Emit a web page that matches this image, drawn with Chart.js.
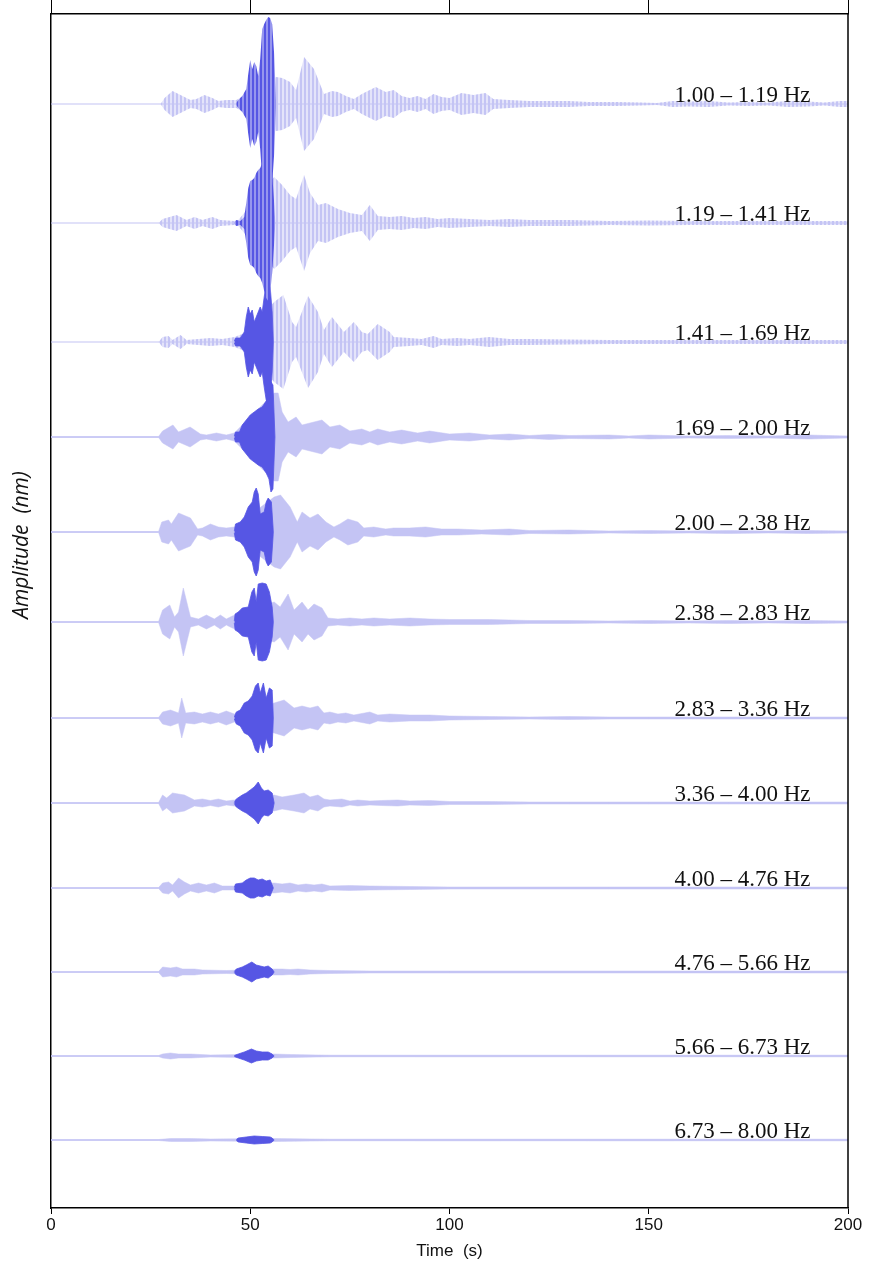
<!DOCTYPE html>
<html>
<head>
<meta charset="utf-8">
<script src="https://cdn.jsdelivr.net/npm/chart.js@4.4.1/dist/chart.umd.min.js"></script>
<style>
  html, body { margin: 0; padding: 0; background: #fff; }
  canvas { display: block; }
</style>
</head>
<body>
<canvas id="seis" width="871" height="1272" style="width:871px;height:1272px"></canvas>
<script>
// band names, right hand labels
const bandLabels = [
  "1.00 – 1.19 Hz", "1.19 – 1.41 Hz", "1.41 – 1.69 Hz", "1.69 – 2.00 Hz",
  "2.00 – 2.38 Hz", "2.38 – 2.83 Hz", "2.83 – 3.36 Hz", "3.36 – 4.00 Hz",
  "4.00 – 4.76 Hz", "4.76 – 5.66 Hz", "5.66 – 6.73 Hz", "6.73 – 8.00 Hz"
];

// trace offsets on the (reversed) amplitude axis
const baselines = [90, 209, 328, 423, 518, 608, 704, 789, 874, 958, 1042, 1126];

const xTicks = [0, 50, 100, 150, 200];

// envelopes: [time (s), half amplitude]
// light = whole record, dark = the highlighted window
const band1Light = [[0,0],[27.5,0],[28.5,6],[30.5,13],[33,8],[35,4],[36.5,5],[38.5,9],[40.5,6],[42,3],[44,4],[46.5,4],[56.5,27],[58,26],[60,22],[61.5,14],[63.5,47],[66,35],[68.5,10],[70.5,13],[72,12],[74,8],[76,5],[78,10],[81.5,17],[84,12],[86,14],[88,8],[90,6],[92,8],[94,5],[96,10],[98,7],[100,6],[103,11],[106,9],[109,11],[111,5],[115,4],[120,3],[125,3],[130,3],[135,2],[142,2],[148,1.5],[152,1],[156,3],[160,2.5],[165,3],[170,1.5],[175,2],[180,1.5],[185,3],[190,2.5],[194,1.5],[198,3],[200,3]];
const band1Dark = [[46.5,1],[47,4],[48,8],[49,15],[49.5,30],[50,44],[50.5,35],[51,42],[51.5,38],[52,28],[52.5,45],[53,75],[53.5,80],[54,84],[54.5,87],[55,86],[55.5,80],[56,50],[56.5,0]];

const band2Light = [[0,0],[27,0],[28,4],[31.5,8],[34,3],[36,6],[38,3],[40.5,6],[42.5,3],[46,2],[47,3],[56,46],[58,38],[60,28],[61.5,24],[63.5,48],[65,30],[67,18],[69,20],[72,14],[75,10],[78,8],[80,18],[82,7],[85,6],[88,7],[91,5],[94,6],[97,4],[100,5],[105,4],[110,3],[115,4],[120,3],[130,3],[140,2],[150,2.5],[160,2],[170,2],[180,2],[190,2],[200,2]];
const band2Dark = [[46,1],[46.5,3],[47.5,2],[48.5,6],[49,20],[49.5,35],[50,42],[50.5,43],[51,45],[51.5,50],[52,53],[52.5,55],[53,60],[53.5,68],[54,75],[54.5,78],[55,70],[55.5,50],[56,20],[56.3,0]];

const band3Light = [[0,0],[27,0],[28,5],[29.5,6],[30.5,2],[32.5,7],[34,2],[37,3],[40,4],[43,3],[46,5],[48,8],[56,40],[58.3,47],[60.5,20],[61.5,15],[64.5,46],[67,30],[68.5,12],[70.5,25],[72.5,15],[73.5,10],[76,20],[78,10],[79.5,8],[82,18],[85,10],[86,5],[90,4],[93,3],[96,6],[98,3],[102,4],[105,3],[110,5],[115,3],[120,3],[130,2.5],[140,2],[150,2],[160,2],[170,2],[180,2],[190,2],[200,2]];
const band3Dark = [[46,1],[46.3,4],[47.5,4],[48.5,10],[49,25],[49.5,35],[50,28],[50.5,32],[51,20],[51.5,25],[52,30],[52.5,35],[53,30],[53.5,45],[54,58],[54.5,62],[55,55],[55.5,30],[55.8,0]];

const band4Light = [[0,0.5],[27,0.5],[28,6],[30.6,12],[32,5],[34.9,10],[37.5,3],[39,2],[41.5,4],[44,2],[46,4],[56,44],[57,44],[58,25],[59.5,15],[61.5,20],[63,12],[65,14],[68,17],[70,10],[72.5,12],[75,6],[78,8],[80,5],[82,8],[85,5],[88,7],[92,4],[95,6],[100,3],[105,4],[110,2],[115,3],[120,1.5],[125,2.5],[130,1.5],[140,2],[145,1],[150,2],[160,1],[170,1.5],[180,1],[190,2],[200,1]];
const band4Dark = [[46,1],[46.3,5],[47.3,5],[48,12],[49,17],[50,22],[51,25],[52,28],[53,30],[54,36],[54.7,42],[55.2,55],[55.7,52],[56.2,0]];

const band5Light = [[0,0.5],[27,0.5],[27.8,10],[29.5,12],[30.2,8],[32,19],[35,14],[36.8,3],[38,4],[40,8],[42,5],[44,4],[46,5],[56,35],[57.6,37],[60,25],[61.8,10],[63,20],[65,14],[67,18],[69,10],[71,5],[72.5,8],[74.5,13],[77,10],[78.5,4],[81,5],[84,3],[86,4],[90,4],[94,5],[98,3],[102,3],[108,2],[115,3],[120,1.5],[130,2],[140,1],[150,1.5],[160,1],[170,1.5],[180,1],[190,1.5],[200,1]];
const band5Dark = [[46,1],[46.3,8],[47.5,10],[48.5,15],[49.5,25],[50.5,30],[51,40],[51.5,44],[52,38],[52.5,18],[53.5,20],[54,30],[54.5,34],[55.3,30],[55.8,0]];

const band6Light = [[0,0.5],[27,0.5],[28,12],[29.8,17],[31,5],[32,10],[33.2,34],[35,5],[37,3],[39,7],[41,3],[42.5,7],[44,3],[45.5,6],[56,20],[57.5,15],[59.5,28],[61,12],[63,20],[64.5,12],[66,18],[68,14],[69.5,4],[72,3],[75,4],[78,3],[81,4],[85,3],[90,4],[95,3],[100,2.5],[110,2.5],[120,1.5],[130,1.5],[140,1],[150,1.5],[160,1],[170,1.5],[180,1],[190,1.5],[200,1]];
const band6Dark = [[46,1],[46.2,8],[47,10],[48,14],[49.5,15],[50.4,30],[51,34],[51.5,20],[52,38],[53,39],[54,38],[54.8,30],[55.5,15],[55.8,0]];

const band7Light = [[0,0.5],[27,0.5],[28,6],[30,8],[32,5],[32.8,20],[33.8,5],[36,6],[38,4],[40,6],[42,4],[44,7],[46,4],[56,15],[58.5,18],[61,10],[63,12],[65,10],[67,12],[68.5,5],[70,6],[72,4],[74,5],[76,3],[80,6],[82,3],[85,4],[90,3],[95,3],[100,2],[110,1.5],[120,1],[130,1.5],[140,1],[150,1],[160,1],[170,1],[180,1],[190,1],[200,1]];
const band7Dark = [[46,1],[46.5,6],[47.5,8],[48.5,15],[49.5,17],[50.5,22],[51.3,32],[52,35],[52.5,25],[53.3,35],[54,20],[54.8,30],[55.5,28],[55.8,0]];

const band8Light = [[0,0.5],[27,0.5],[28,8],[29,5],[30.5,10],[33.5,8],[34.5,6],[36,3],[38,4],[40,2.5],[42,4],[44,2],[46,3],[56,8],[58,6],[61,8],[63.5,10],[65,6],[67,8],[68.5,4],[70,3],[73,4],[75,2],[77,3],[80,2],[83,2.5],[87,3],[90,2],[95,2.5],[100,1.5],[110,1.5],[120,1],[130,1],[140,1],[150,1],[160,1],[170,1],[180,1],[190,1],[200,1]];
const band8Dark = [[46,0.5],[46.5,4],[48,8],[49,10],[50,13],[51,16],[52,21],[52.8,15],[53.5,12],[54.5,13],[55.5,10],[56,0]];

const band9Light = [[0,0.5],[27,0.5],[28,5],[29.5,6],[30.5,3],[32,10],[33.5,6],[35,3],[37,5],[39,3],[41,5],[43,2],[46,2],[56,5],[58,4],[60,5],[62,3],[64,4],[66,3],[68,4],[70,2],[75,2.5],[80,2],[90,1.5],[100,1],[120,1],[140,1],[160,1],[180,1],[200,1]];
const band9Dark = [[46,0.5],[46.3,4],[48,5],[49,8],[50,10],[51,10],[52,8],[53,9],[54,7],[55,8],[55.8,0]];

const band10Light = [[0,0.5],[27,0.5],[28,5],[30,4],[31.5,5],[33,3],[36,3],[38,2],[44,1.5],[56,3],[58,3],[60,2.5],[62,3],[65,2],[70,1.5],[80,1],[100,1],[200,1]];
const band10Dark = [[46,0.5],[46.5,3],[48,5],[49,7],[50.4,10],[51.5,7],[52.5,6],[53.5,5],[54.5,6],[55.5,3],[56,0]];

const band11Light = [[0,0.5],[27,0.5],[28,2],[30,3],[32,2],[35,2],[40,1],[56,2],[60,1.5],[70,0.8],[200,0.8]];
const band11Dark = [[46,0.5],[47,2],[48.5,4],[50.3,7],[51.5,5],[53,4],[54.5,4],[55.5,2],[56,0]];

const band12Light = [[0,0.5],[27,0.5],[30,1.5],[35,1.5],[40,1],[56,1.5],[70,0.8],[200,0.8]];
const band12Dark = [[46.5,0.5],[47,2],[49,3],[51,4],[53,3.5],[55,3],[55.5,2],[56,0]];

const lightEnvelopes = [band1Light, band2Light, band3Light, band4Light, band5Light, band6Light,
  band7Light, band8Light, band9Light, band10Light, band11Light, band12Light];
const darkEnvelopes = [band1Dark, band2Dark, band3Dark, band4Dark, band5Dark, band6Dark,
  band7Dark, band8Dark, band9Dark, band10Dark, band11Dark, band12Dark];

const LIGHT = "rgb(196,196,244)";
const LIGHT_GAP = "rgba(196,196,244,0.45)";
const DARK = "rgb(86,86,228)";
const DARK_GAP = "rgb(150,150,238)";

// vertical stripes so the slow bands look like single wiggles
function stripes(color, gap) {
  const c = document.createElement("canvas");
  c.width = 4;
  c.height = 1;
  const g = c.getContext("2d");
  g.fillStyle = gap;
  g.fillRect(0, 0, 4, 1);
  g.fillStyle = color;
  g.fillRect(0, 0, 2, 1);
  return g.createPattern(c, "repeat");
}

function envelopeSets(points, base, color, fillStyle, width) {
  return [
    { data: points.map(p => ({ x: p[0], y: base - p[1] })), borderColor: color, borderWidth: width, backgroundColor: fillStyle, fill: "+1" },
    { data: points.map(p => ({ x: p[0], y: base + p[1] })), borderColor: color, borderWidth: width, fill: false }
  ];
}

const darkSets = [];
const lightSets = [];
const lineSets = [];
bandLabels.forEach((label, i) => {
  const base = baselines[i];
  const textured = i < 3;
  darkSets.push(...envelopeSets(darkEnvelopes[i], base, DARK,
    i < 2 ? stripes(DARK, DARK_GAP) : DARK, i < 2 ? 0 : 0.8));
  lightSets.push(...envelopeSets(lightEnvelopes[i], base, LIGHT,
    textured ? stripes(LIGHT, LIGHT_GAP) : LIGHT, textured ? 0 : 0.5));
  lineSets.push({ data: [{ x: 0, y: base }, { x: 200, y: base }], borderColor: LIGHT, borderWidth: 1.2, fill: false });
});

const bandText = {
  id: "bandText",
  afterDatasetsDraw(chart) {
    const ctx = chart.ctx;
    const xs = chart.scales.x, ys = chart.scales.y;
    ctx.save();
    ctx.fillStyle = "#111";
    ctx.font = "23px 'Liberation Serif', 'Times New Roman', serif";
    ctx.textAlign = "right";
    ctx.textBaseline = "alphabetic";
    bandLabels.forEach((label, i) => {
      ctx.fillText(label, xs.getPixelForValue(190.6), ys.getPixelForValue(baselines[i] - 2));
    });
    ctx.restore();
  }
};

const frame = {
  id: "frame",
  afterDraw(chart) {
    const ctx = chart.ctx, a = chart.chartArea;
    ctx.save();
    ctx.strokeStyle = "#000";
    ctx.lineWidth = 1.5;
    ctx.beginPath();
    ctx.moveTo(a.right, a.top);
    ctx.lineTo(a.right, a.bottom);
    ctx.stroke();
    // y title
    ctx.translate(22, 545);
    ctx.rotate(-Math.PI / 2);
    ctx.fillStyle = "#111";
    ctx.font = "italic 21px 'Open Sans', 'Noto Sans', sans-serif";
    ctx.textAlign = "center";
    ctx.textBaseline = "middle";
    ctx.fillText("Amplitude  (nm)", 0, 0);
    ctx.restore();
  }
};

const narrow = "'Liberation Sans Narrow', 'Arial Narrow', 'Liberation Sans', sans-serif";

new Chart(document.getElementById("seis"), {
  type: "line",
  data: { datasets: [...darkSets, ...lightSets, ...lineSets] },
  options: {
    responsive: false,
    animation: false,
    events: [],
    elements: { point: { radius: 0 }, line: { tension: 0 } },
    layout: { padding: { left: 0, right: 23, top: 0, bottom: 0 } },
    plugins: { legend: { display: false }, tooltip: { enabled: false } },
    scales: {
      x: {
        type: "linear", position: "bottom", min: 0, max: 200,
        afterBuildTicks: s => { s.ticks = xTicks.map(v => ({ value: v })); },
        ticks: { color: "#111", font: { family: narrow, size: 17 }, padding: 1, maxRotation: 0 },
        grid: { drawOnChartArea: false, color: "#000", tickLength: 6 },
        border: { color: "#000", width: 1.5 },
        title: { display: true, text: "Time  (s)", color: "#111", font: { family: narrow, size: 17 }, padding: { top: 0, bottom: 10 } },
        afterFit: s => { s.height = 64; }
      },
      xTop: {
        type: "linear", position: "top", min: 0, max: 200,
        afterBuildTicks: s => { s.ticks = xTicks.map(v => ({ value: v })); },
        ticks: { display: false },
        grid: { drawOnChartArea: false, color: "#000", tickLength: 14 },
        border: { color: "#000", width: 1.5 },
        afterFit: s => { s.height = 14; }
      },
      y: {
        min: 0, max: 1194, reverse: true,
        ticks: { display: false },
        grid: { display: false },
        border: { color: "#000", width: 1.5 },
        afterFit: s => { s.width = 51; }
      }
    }
  },
  plugins: [bandText, frame]
});
</script>
</body>
</html>
